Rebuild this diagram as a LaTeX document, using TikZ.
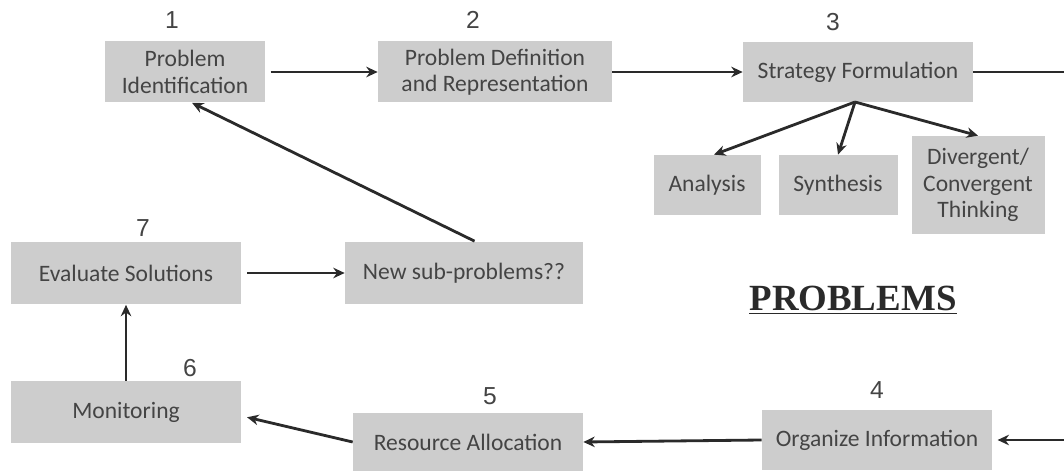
\documentclass[tikz,border=0pt]{standalone}
\usepackage{fontspec}
\setmainfont{Carlito}
\newfontfamily\numfont{Liberation Sans}
\newfontfamily\titlefont{Liberation Serif}
\usepackage{xcolor}
\usetikzlibrary{arrows.meta}

\definecolor{boxgray}{HTML}{CDCDCD}
\definecolor{linegray}{HTML}{2A2A2A}
\definecolor{textgray}{HTML}{444444}

\tikzset{
  stagebox/.style={fill=boxgray, text=textgray, align=center, font=\fontsize{13.4}{15}\selectfont, inner sep=2pt},
  stagenum/.style={text=textgray, font=\numfont\fontsize{14}{16}\selectfont},
  flow/.style={draw=linegray, line width=1.6pt, -{Stealth[length=6.5pt,width=6pt]}}
}

\begin{document}
\begin{tikzpicture}[x=0.02cm, y=-0.02cm]
				\useasboundingbox (0,0) rectangle (1064,472);
				% Top row
				\node[stagebox, minimum width=3.2cm, minimum height=1.22cm] (ident) at (185,72) {Problem\\Identification};
				\node[stagenum] (n1) at (172,20) {1};
				
				\node[stagebox, minimum width=4.68cm, minimum height=1.22cm] (defn) at (495,72) {Problem Definition\\and Representation};
				\node[stagenum] (n2) at (473,20) {2};
				
				\node[stagebox, minimum width=4.6cm, minimum height=1.2cm] (strat) at (858,72) {Strategy Formulation};
				\node[stagenum] (n3) at (833,22) {3};
				
				% Strategy branches
				\node[stagebox, minimum width=2.14cm, minimum height=1.2cm] (anal) at (707,185) {Analysis};
				\node[stagebox, minimum width=2.38cm, minimum height=1.2cm] (synth) at (838,185) {Synthesis};
				\node[stagebox, minimum width=2.66cm, minimum height=1.96cm] (diverg) at (978,185) {Divergent/\\Convergent\\Thinking};
				
				% Middle row
				\node[stagebox, minimum width=4.62cm, minimum height=1.26cm] (eval) at (126,273) {Evaluate Solutions};
				\node[stagenum] (n7) at (143,228) {7};
				
				\node[stagebox, minimum width=4.76cm, minimum height=1.26cm] (subprob) at (464,273) {New sub-problems??};
				
				\node[text=linegray, font=\titlefont\bfseries\fontsize{21}{24}\selectfont] (title) at (853,300) {\underline{PROBLEMS}};
				
				% Bottom row
				\node[stagebox, minimum width=4.62cm, minimum height=1.24cm] (monit) at (126,412) {Monitoring};
				\node[stagenum] (n6) at (190,368) {6};
				
				\node[stagebox, minimum width=4.6cm, minimum height=1.18cm] (resrc) at (468,442) {Resource Allocation};
				\node[stagenum] (n5) at (490,396) {5};
				
				\node[stagebox, minimum width=4.6cm, minimum height=1.2cm] (organ) at (877,440) {Organize Information};
				\node[stagenum] (n4) at (877,390) {4};
				
				% Connectors
				\coordinate (rtop) at (1080,72);
				\coordinate (rbot) at (1080,440);
				\draw[flow] ([xshift=3pt]ident.east) -- (defn.west);
				\draw[flow] (defn.east) -- (strat.west);
				\draw[flow] (strat.east) -- (rtop) -- (rbot) -- ([xshift=3pt]organ.east);
				\draw[flow] (organ.west) -- (resrc.east);
				\draw[flow] (resrc.west) -- ([xshift=3pt,yshift=-3pt]monit.east);
				\draw[flow] (monit.north) -- (eval.south);
				\draw[flow] ([xshift=3pt]eval.east) -- (subprob.west);
				\draw[flow] ([xshift=6pt]subprob.north) -- ([xshift=4pt]ident.south);
				
				\coordinate (split) at (855,102);
				\draw[flow] (split) -- ([xshift=4pt]anal.north);
				\draw[flow] (split) -- (synth.north);
				\draw[flow] (split) -- (diverg.north);
			\end{tikzpicture}
\end{document}
